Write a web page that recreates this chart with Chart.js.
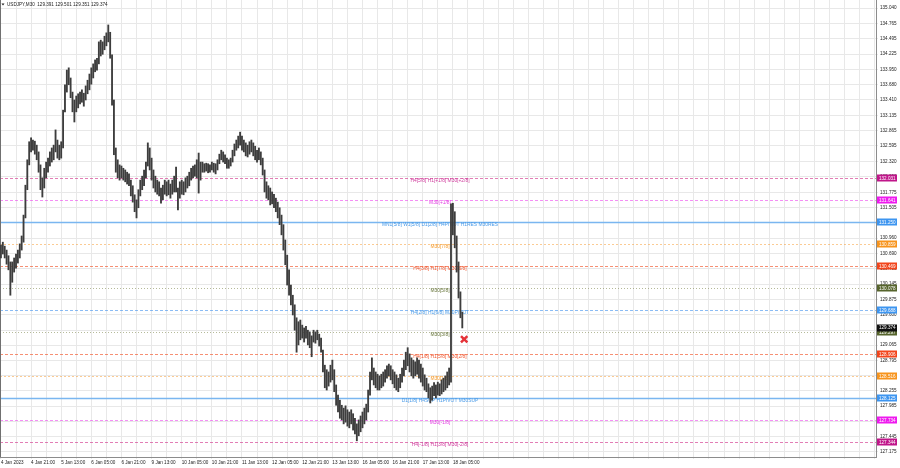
<!DOCTYPE html>
<html>
<head>
<meta charset="utf-8">
<script src="https://cdn.jsdelivr.net/npm/chart.js@4.4.0/dist/chart.umd.min.js"></script>
<style>
  html, body { margin: 0; padding: 0; background: #fff; }
  canvas { display: block; }
</style>
</head>
<body>
<canvas id="chart" width="900" height="468"></canvas>
<script>
const titleText = 'USDJPY,M30  129.391 129.501 129.351 129.374';

// one label every 32 bars (16 hourly slots)
const xTickLabels = ['4 Jan 2023', '4 Jan 21:00', '5 Jan 13:00', '6 Jan 05:00', '6 Jan 21:00', '9 Jan 13:00',
    '10 Jan 05:00', '10 Jan 21:00', '11 Jan 13:00', '12 Jan 05:00', '12 Jan 21:00', '13 Jan 13:00',
    '16 Jan 05:00', '16 Jan 21:00', '17 Jan 13:00', '18 Jan 05:00'];

const yTickLabels = ['135.040', '134.765', '134.495', '134.225', '133.950', '133.680', '133.410', '133.135',
    '132.865', '132.595', '132.320', '132.050', '131.775', '131.505', '131.230', '130.960', '130.690',
    '130.415', '130.145', '129.875', '129.600', '129.330', '129.065', '128.795', '128.525', '128.255',
    '127.985', '127.715', '127.445', '127.175'];

// hourly high / low, 4 Jan 05:00 .. 18 Jan 11:00
const highs = [
    130.84, 130.89, 130.82, 130.75, 130.65, 130.54, 130.54, 130.61, 130.68, 130.75,
    130.86, 131.00, 131.37, 131.90, 132.35, 132.67, 132.74, 132.70, 132.68, 132.61,
    132.49, 132.26, 132.03, 132.20, 132.31, 132.38, 132.49, 132.56, 132.61, 132.88,
    132.70, 132.61, 132.67, 133.23, 133.68, 133.94, 133.98, 133.80, 133.55, 133.41,
    133.48, 133.52, 133.55, 133.59, 133.53, 133.66, 133.76, 133.87, 133.98, 134.05,
    134.12, 134.15, 134.44, 134.47, 134.44, 134.54, 134.60, 134.74, 134.61, 134.21,
    133.41, 132.56, 132.35, 132.26, 132.24, 132.20, 132.17, 132.13, 132.10, 131.99,
    131.89, 131.73, 131.64, 131.82, 131.99, 132.06, 132.17, 132.31, 132.65, 132.56,
    132.38, 132.17, 132.06, 131.99, 131.96, 131.85, 131.90, 131.99, 131.96, 131.99,
    131.92, 131.99, 132.06, 132.22, 131.85, 131.96, 131.99, 131.96, 132.03, 132.06,
    132.13, 132.20, 132.24, 132.26, 132.35, 132.47, 132.31, 132.31, 132.28, 132.29,
    132.28, 132.26, 132.31, 132.29, 132.28, 132.35, 132.45, 132.52, 132.49, 132.44,
    132.38, 132.35, 132.38, 132.52, 132.63, 132.70, 132.77, 132.84, 132.77, 132.70,
    132.65, 132.61, 132.67, 132.70, 132.65, 132.59, 132.52, 132.56, 132.49, 132.38,
    132.17, 131.96, 131.89, 131.85, 131.78, 131.74, 131.67, 131.60, 131.50, 131.37,
    131.20, 130.93, 130.66, 130.40, 130.13, 129.95, 129.78, 129.55, 129.48, 129.51,
    129.42, 129.37, 129.40, 129.33, 129.30, 129.23, 129.33, 129.30, 129.33, 129.26,
    129.19, 128.98, 128.71, 128.63, 128.59, 128.71, 128.80, 128.63, 128.36, 128.18,
    128.09, 128.00, 127.95, 127.99, 127.92, 127.88, 127.92, 127.85, 127.77, 127.67,
    127.74, 127.81, 127.88, 127.95, 128.02, 128.27, 128.59, 128.84, 128.66, 128.59,
    128.55, 128.52, 128.55, 128.59, 128.63, 128.70, 128.73, 128.70, 128.63, 128.59,
    128.54, 128.48, 128.55, 128.66, 128.80, 128.94, 129.02, 128.91, 128.84, 128.80,
    128.77, 128.84, 128.80, 128.73, 128.66, 128.54, 128.48, 128.38, 128.31, 128.34,
    128.40, 128.36, 128.41, 128.38, 128.45, 128.48, 128.52, 128.59, 128.66, 131.57,
    131.58, 131.43, 131.00, 130.54, 130.01, 129.65
];
const lows = [
    130.61, 130.68, 130.61, 130.50, 130.40, 129.95, 130.18, 130.36, 130.43, 130.52,
    130.61, 130.75, 130.89, 131.32, 131.82, 132.26, 132.49, 132.52, 132.45, 132.35,
    132.13, 131.82, 131.69, 131.85, 132.03, 132.13, 132.24, 132.31, 132.35, 132.49,
    132.38, 132.35, 132.38, 132.56, 133.20, 133.55, 133.68, 133.45, 133.20, 133.02,
    133.20, 133.27, 133.34, 133.37, 133.30, 133.41, 133.52, 133.59, 133.69, 133.80,
    133.91, 133.94, 134.05, 134.19, 134.22, 134.30, 134.37, 134.44, 134.15, 133.32,
    132.44, 132.13, 132.03, 131.99, 132.03, 131.99, 131.96, 131.92, 131.89, 131.71,
    131.60, 131.43, 131.32, 131.50, 131.71, 131.82, 131.89, 132.03, 132.24, 132.17,
    131.99, 131.85, 131.78, 131.74, 131.71, 131.58, 131.64, 131.74, 131.71, 131.73,
    131.67, 131.74, 131.78, 131.78, 131.46, 131.67, 131.74, 131.73, 131.78, 131.85,
    131.89, 131.99, 132.03, 132.06, 132.03, 131.76, 131.99, 132.13, 132.13, 132.15,
    132.12, 132.13, 132.17, 132.13, 132.10, 132.17, 132.28, 132.35, 132.31, 132.28,
    132.20, 132.20, 132.24, 132.31, 132.42, 132.52, 132.56, 132.61, 132.52, 132.49,
    132.42, 132.40, 132.45, 132.49, 132.42, 132.35, 132.31, 132.35, 132.26, 132.08,
    131.78, 131.67, 131.64, 131.55, 131.57, 131.50, 131.43, 131.32, 131.20, 131.02,
    130.75, 130.49, 130.13, 129.95, 129.78, 129.60, 129.33, 128.94, 129.07, 129.16,
    129.19, 129.12, 129.19, 129.07, 129.02, 128.86, 129.12, 129.10, 129.16, 129.05,
    128.94, 128.59, 128.31, 128.27, 128.34, 128.41, 128.45, 128.24, 128.00, 127.88,
    127.77, 127.74, 127.67, 127.70, 127.63, 127.60, 127.67, 127.56, 127.49, 127.37,
    127.46, 127.53, 127.60, 127.67, 127.74, 127.88, 128.18, 128.45, 128.36, 128.31,
    128.27, 128.27, 128.31, 128.34, 128.41, 128.48, 128.52, 128.45, 128.38, 128.31,
    128.27, 128.24, 128.31, 128.41, 128.52, 128.63, 128.70, 128.59, 128.52, 128.48,
    128.52, 128.55, 128.48, 128.41, 128.34, 128.27, 128.24, 128.13, 128.04, 128.09,
    128.17, 128.13, 128.18, 128.17, 128.20, 128.24, 128.27, 128.31, 128.36, 128.41,
    131.02, 130.79, 130.36, 129.90, 129.55, 129.37
];

const lastPrice = 129.374;
const markerHour = 246;
const markerPrice = 129.17;

const levelValues = [132.031, 131.641, 131.250, 130.859, 130.469, 130.078, 129.688, 129.297,
    128.906, 128.516, 128.125, 127.734, 127.344];
const levelNames = ['H4[5/8] H1[+1/8] M30[+2/8]', 'M30[+1/8]', 'MN1[5/8] W1[5/8] D1[2/8] H4PIVOT H1RES M30RES',
    'M30[7/8]', 'H4[3/8] H1[7/8] M30[6/8]', 'M30[5/8]', 'H4[2/8] H1[6/8] M30PIVOT', 'M30[3/8]',
    'H4[1/8] H1[5/8] M30[2/8]', 'M30[1/8]', 'D1[1/8] H4SUP H1PIVOT M30SUP', 'M30[-1/8]',
    'H4[-1/8] H1[3/8] M30[-2/8]'];

// line / text / price-box look of each level
const PINK = {line: 'rgba(214,70,150,0.7)', text: '#cf3a9c', box: '#c0168a', dash: [3, 2], width: 1};
const MAGENTA = {line: 'rgba(236,70,236,0.6)', text: '#e33de3', box: '#ee1aee', dash: [3, 2], width: 1};
const BLUE = {line: '#7ab6f0', text: '#4a9be8', box: '#3d95f0', dash: [], width: 1.5};
const BLUE_DASH = {line: 'rgba(90,160,240,0.7)', text: '#4a9be8', box: '#3d95f0', dash: [3, 2], width: 1};
const ORANGE = {line: 'rgba(247,160,60,0.55)', text: '#f59a2a', box: '#f7941d', dash: [2, 2], width: 1};
const RED = {line: 'rgba(242,95,55,0.7)', text: '#f0552d', box: '#f2451c', dash: [3, 2], width: 1};
const OLIVE = {line: 'rgba(120,130,70,0.55)', text: '#66743a', box: '#56642c', dash: [1, 2], width: 1};
const levelStyles = [PINK, MAGENTA, BLUE, ORANGE, RED, OLIVE, BLUE_DASH, OLIVE, RED, ORANGE, BLUE, MAGENTA, PINK];

const FONT = "4.9px 'Liberation Sans', Arial, sans-serif";
const SLOTS_MAX = 464.7;

const levelsPlugin = {
    id: 'levels',
    beforeDatasetsDraw(chart) {
        const {ctx, chartArea, scales} = chart;
        const {left, right, bottom} = chartArea;
        ctx.save();
        ctx.font = FONT;
        ctx.textAlign = 'center';
        ctx.textBaseline = 'middle';
        levelValues.forEach((value, i) => {
            const st = levelStyles[i];
            const y = Math.round(scales.y.getPixelForValue(value)) + 0.5;
            ctx.beginPath();
            ctx.setLineDash(st.dash);
            ctx.strokeStyle = st.line;
            ctx.lineWidth = st.width;
            ctx.moveTo(left, y);
            ctx.lineTo(right, y);
            ctx.stroke();
            ctx.fillStyle = st.text;
            ctx.fillText(levelNames[i], left + 440, y + 2);
        });
        ctx.setLineDash([]);
        // left frame
        ctx.strokeStyle = '#707070';
        ctx.lineWidth = 1;
        ctx.beginPath();
        ctx.moveTo(left + 0.5, 0);
        ctx.lineTo(left + 0.5, bottom);
        ctx.stroke();
        ctx.restore();
    },
    afterDraw(chart) {
        const {ctx, chartArea, scales} = chart;
        const {right} = chartArea;
        ctx.save();
        ctx.font = "4.6px 'Liberation Sans', Arial, sans-serif";
        ctx.textAlign = 'left';
        ctx.textBaseline = 'middle';
        const box = (value, color) => {
            const y = scales.y.getPixelForValue(value);
            ctx.fillStyle = color;
            ctx.fillRect(right + 1, Math.round(y) - 3.5, 20, 7);
            ctx.fillStyle = '#fff';
            ctx.fillText(value.toFixed(3), right + 3, y + 0.5);
        };
        levelValues.forEach((value, i) => box(value, levelStyles[i].box));
        box(lastPrice, '#111');
        // title line
        ctx.fillStyle = '#222';
        ctx.beginPath();
        ctx.moveTo(1.5, 3.5);
        ctx.lineTo(4.5, 3.5);
        ctx.lineTo(3, 5.5);
        ctx.closePath();
        ctx.fill();
        ctx.fillText(titleText, 7, 5);
        ctx.restore();
    }
};

Chart.defaults.font.family = "'Liberation Sans', Arial, sans-serif";
Chart.defaults.font.size = 4.6;
Chart.defaults.color = '#222';

const ctx = document.getElementById('chart').getContext('2d');
new Chart(ctx, {
    type: 'bar',
    data: {
        datasets: [
            {
                type: 'bar',
                data: highs.map((hi, i) => ({x: i, y: [lows[i], hi]})),
                backgroundColor: '#3d3d3d',
                barThickness: 1.2,
                grouped: false,
                order: 2
            },
            {
                type: 'scatter',
                data: [{x: markerHour, y: markerPrice}],
                pointStyle: 'crossRot',
                radius: 4.5,
                borderWidth: 2.5,
                borderColor: '#e53238',
                order: 1
            }
        ]
    },
    options: {
        responsive: false,
        animation: false,
        layout: {padding: 0, autoPadding: false},
        plugins: {legend: {display: false}, tooltip: {enabled: false}},
        scales: {
            x: {
                type: 'linear',
                min: -0.5,
                max: SLOTS_MAX,
                offset: false,
                afterBuildTicks: axis => {
                    const t = [];
                    for (let h = 0; h <= SLOTS_MAX; h += 8) t.push({value: h});
                    axis.ticks = t;
                },
                afterFit: axis => {
                    axis.height = 11;
                    axis.paddingLeft = 0;
                    axis.paddingRight = 0;
                },
                ticks: {
                    autoSkip: false,
                    maxRotation: 0,
                    align: 'start',
                    padding: 1,
                    callback: v => (v % 16 === 0 && xTickLabels[v / 16]) || ''
                },
                grid: {color: '#e8e8e8', offset: false, tickLength: 2},
                border: {color: '#8c8c8c'}
            },
            y: {
                position: 'right',
                min: 127.083,
                max: 135.182,
                beginAtZero: false,
                afterBuildTicks: axis => {
                    axis.ticks = yTickLabels.map(t => ({value: parseFloat(t)}));
                },
                afterFit: axis => {
                    axis.width = 24;
                    axis.paddingTop = 0;
                    axis.paddingBottom = 0;
                },
                ticks: {
                    autoSkip: false,
                    padding: 2,
                    crossAlign: 'near',
                    callback: v => v.toFixed(3)
                },
                grid: {color: '#e8e8e8', tickLength: 2},
                border: {color: '#8c8c8c'}
            }
        }
    },
    plugins: [levelsPlugin]
});
</script>
</body>
</html>
